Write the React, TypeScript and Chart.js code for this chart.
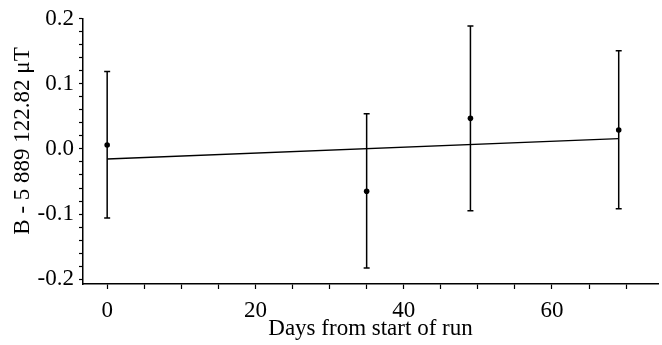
import React, { useEffect, useRef } from "react";
import { Chart, registerables } from "chart.js";

Chart.register(...registerables);

// Measurement days and residuals (µT)
const days = [0, 35, 49, 69];
const values = [0.006, -0.065, 0.047, 0.029];
const upper = [0.119, 0.054, 0.189, 0.151];
const lower = [-0.106, -0.183, -0.095, -0.092];

// Linear fit end points
const fitDays = [0, 69];
const fitValues = [-0.0154, 0.0158];

// Axis ticks
const xTicks = [0, 5, 10, 15, 20, 25, 30, 35, 40, 45, 50, 55, 60, 65, 70];
const xLabels = [0, 20, 40, 60];
const yTicks = [
  -0.2, -0.18, -0.16, -0.14, -0.12, -0.1, -0.08, -0.06, -0.04, -0.02, 0,
  0.02, 0.04, 0.06, 0.08, 0.1, 0.12, 0.14, 0.16, 0.18, 0.2,
];
const yLabels = [-0.2, -0.1, 0, 0.1, 0.2];
const yTitle = "B - 5 889 122.82 \u03bcT";
const xTitle = "Days from start of run";

const FONT = "'Liberation Serif', 'Times New Roman', serif";

const errorBars = {
  id: "errorBars",
  afterDatasetsDraw(chart: any) {
    const { ctx, scales } = chart;
    const xs = scales.x;
    const ys = scales.y;
    ctx.save();
    ctx.strokeStyle = "#000";
    ctx.lineWidth = 1.5;
    for (let i = 0; i < days.length; i++) {
      const px = xs.getPixelForValue(days[i]);
      const pTop = ys.getPixelForValue(upper[i]);
      const pBot = ys.getPixelForValue(lower[i]);
      ctx.beginPath();
      ctx.moveTo(px, pTop);
      ctx.lineTo(px, pBot);
      ctx.moveTo(px - 3, pTop);
      ctx.lineTo(px + 3, pTop);
      ctx.moveTo(px - 3, pBot);
      ctx.lineTo(px + 3, pBot);
      ctx.stroke();
    }
    ctx.restore();
  },
};

// y-axis title, centred on the labelled part of the axis (0.2 .. -0.2)
const yTitlePlugin = {
  id: "yTitlePlugin",
  afterDraw(chart: any) {
    const { ctx, scales } = chart;
    const ys = scales.y;
    const cy = (ys.getPixelForValue(0.2) + ys.getPixelForValue(-0.2)) / 2 - 8;
    ctx.save();
    ctx.translate(23, cy);
    ctx.rotate(-Math.PI / 2);
    ctx.font = `23px ${FONT}`;
    ctx.fillStyle = "#000";
    ctx.textAlign = "center";
    ctx.textBaseline = "middle";
    ctx.fillText(yTitle, 0, 0);
    ctx.restore();
  },
};

export default function App() {
  const ref = useRef<HTMLCanvasElement>(null);
  useEffect(() => {
    if (!ref.current) return;
    const chart = new Chart(ref.current, {
      type: "scatter",
      data: {
        datasets: [
          {
            type: "line",
            data: fitDays.map((d, i) => ({ x: d, y: fitValues[i] })),
            borderColor: "#000",
            borderWidth: 1.3,
            pointRadius: 0,
            fill: false,
          },
          {
            data: days.map((d, i) => ({ x: d, y: values[i] })),
            backgroundColor: "#000",
            borderColor: "#000",
            pointRadius: 2.8,
            borderWidth: 0,
          },
        ],
      },
      plugins: [errorBars, yTitlePlugin],
      options: {
        responsive: false,
        animation: false,
        layout: { padding: { top: 14, left: 0, right: 0, bottom: 0 } },
        plugins: { legend: { display: false }, tooltip: { enabled: false } },
        scales: {
          x: {
            type: "linear",
            min: -3.26,
            max: 74.3,
            afterBuildTicks: (s: any) => {
              s.ticks = xTicks.map((v) => ({ value: v }));
            },
            afterFit: (s: any) => {
              s.height = 61;
            },
            grid: {
              drawOnChartArea: false,
              drawTicks: true,
              tickLength: 5,
              tickColor: "#000",
              tickWidth: 1.2,
            },
            border: { display: true, color: "#000", width: 1.5 },
            ticks: {
              autoSkip: false,
              maxRotation: 0,
              padding: 8,
              color: "#000",
              font: { family: FONT, size: 23 },
              callback: (v: any) => (xLabels.includes(Number(v)) ? String(v) : ""),
            },
            title: {
              display: true,
              text: xTitle,
              color: "#000",
              font: { family: FONT, size: 23 },
              padding: { top: 0, bottom: 2 },
            },
          },
          y: {
            type: "linear",
            min: -0.2075,
            max: 0.2,
            afterBuildTicks: (s: any) => {
              s.ticks = yTicks.map((v) => ({ value: v }));
            },
            afterFit: (s: any) => {
              s.width = 83;
            },
            grid: {
              drawOnChartArea: false,
              drawTicks: true,
              tickLength: 4,
              tickColor: "#000",
              tickWidth: 1.2,
            },
            border: { display: true, color: "#000", width: 1.5 },
            ticks: {
              autoSkip: false,
              padding: 5,
              color: "#000",
              font: { family: FONT, size: 23 },
              callback: (v: any) => {
                const n = Number(v);
                const hit = yLabels.find((l) => Math.abs(l - n) < 1e-9);
                return hit === undefined ? "" : (hit === 0 ? 0 : hit).toFixed(1);
              },
            },
            title: { display: false },
          },
        },
      },
    });
    return () => chart.destroy();
  }, []);
  return (
    <div style={{ position: "absolute", left: 0, top: 0, width: 662, height: 345, background: "#fff" }}>
      <canvas ref={ref} width={662} height={345} />
    </div>
  );
}
